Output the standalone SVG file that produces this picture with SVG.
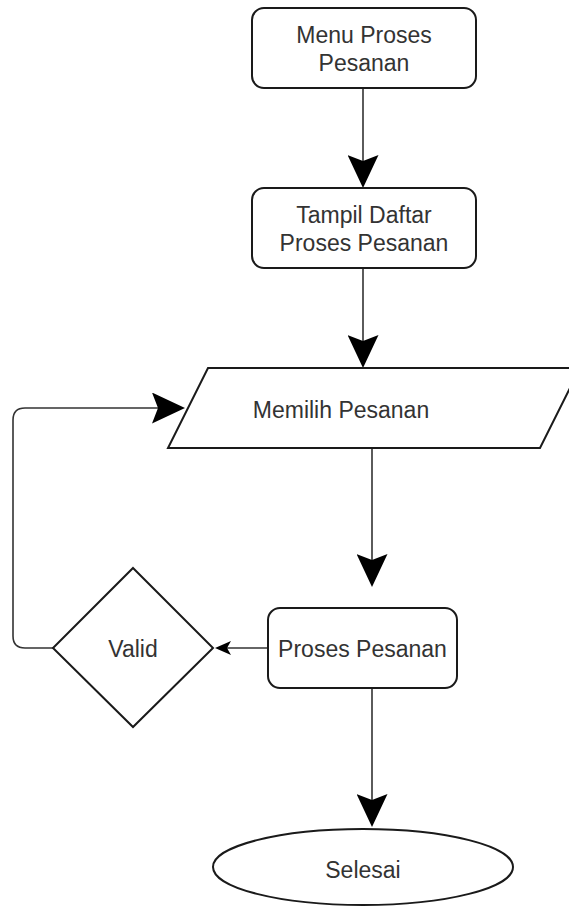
<svg xmlns="http://www.w3.org/2000/svg" width="569" height="906" viewBox="0 0 569 906">
  <style>
    .shape { fill: #ffffff; stroke: #1a1a1a; stroke-width: 2; }
    .label { font-family: "Liberation Sans", Arial, sans-serif; font-size: 23px; fill: #333333; text-anchor: middle; }
    .edge { fill: none; stroke: #333333; stroke-width: 1.6; }
  </style>
  <defs>
    <marker id="bigArrow" markerUnits="userSpaceOnUse" viewBox="0 0 33 31" markerWidth="33" markerHeight="31" refX="13" refY="15.5" orient="auto">
      <path d="M0,0 L33,15.5 L0,31 L6,15.5 Z" fill="#000000"/>
    </marker>
    <marker id="smallArrow" markerUnits="userSpaceOnUse" viewBox="0 0 16 14" markerWidth="16" markerHeight="14" refX="8" refY="7" orient="auto">
      <path d="M0,0 L16,7 L0,14 L4,7 Z" fill="#000000"/>
    </marker>
  </defs>

  <rect width="569" height="906" fill="#ffffff"/>

  <g id="connectors">
    <path class="edge" d="M363,88 V168" marker-end="url(#bigArrow)"/>
    <path class="edge" d="M363,268 V348" marker-end="url(#bigArrow)"/>
    <path class="edge" d="M372,448 V567" marker-end="url(#bigArrow)"/>
    <path class="edge" d="M372,688 V807" marker-end="url(#bigArrow)"/>
    <path class="edge" d="M53,648 H25 Q13,648 13,636 V420 Q13,408 25,408 H165" marker-end="url(#bigArrow)"/>
    <path class="edge" d="M268,648 H223" marker-end="url(#smallArrow)"/>
  </g>

  <g id="menu-proses-pesanan">
    <rect class="shape" x="252" y="8" width="224" height="80" rx="12" ry="12"/>
    <text class="label" x="364" y="43">Menu Proses</text>
    <text class="label" x="364" y="71">Pesanan</text>
  </g>

  <g id="tampil-daftar">
    <rect class="shape" x="252" y="188" width="224" height="80" rx="12" ry="12"/>
    <text class="label" x="364" y="223">Tampil Daftar</text>
    <text class="label" x="364" y="251">Proses Pesanan</text>
  </g>

  <g id="memilih-pesanan">
    <polygon class="shape" points="208,368 580,368 540,448 168,448"/>
    <text class="label" x="341" y="418">Memilih Pesanan</text>
  </g>

  <g id="proses-pesanan">
    <rect class="shape" x="268" y="608" width="189" height="80" rx="12" ry="12"/>
    <text class="label" x="362.5" y="657">Proses Pesanan</text>
  </g>

  <g id="valid">
    <polygon class="shape" points="133,568 213,648 133,727 53,648"/>
    <text class="label" x="133" y="657">Valid</text>
  </g>

  <g id="selesai">
    <ellipse class="shape" cx="363" cy="867" rx="150" ry="38"/>
    <text class="label" x="363" y="878">Selesai</text>
  </g>
</svg>
